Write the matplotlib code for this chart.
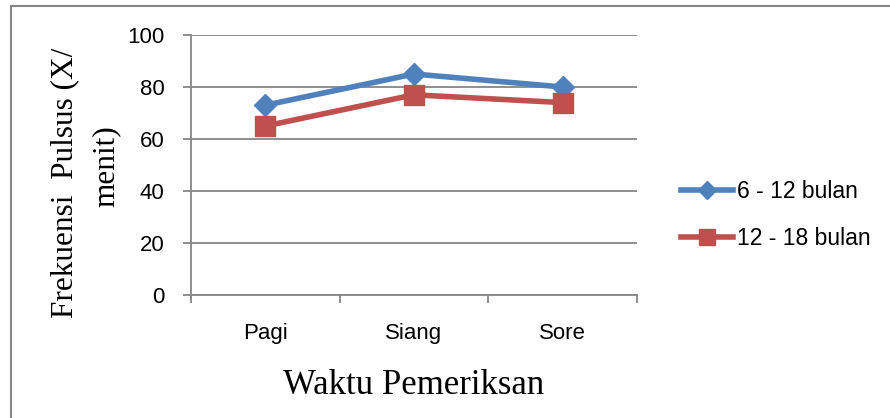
import numpy as np
import matplotlib.pyplot as plt
from matplotlib.patches import Rectangle
from matplotlib.lines import Line2D

# data
waktu = ["Pagi", "Siang", "Sore"]
umur_6_12 = [73, 85, 80]
umur_12_18 = [65, 77, 74]
y_ticks = [0, 20, 40, 60, 80, 100]

biru = "#4F81BD"
merah = "#C0504D"
abu = "#868686"
sans = "Liberation Sans"
serif = "Liberation Serif"

fig = plt.figure(figsize=(8.9, 4.18), dpi=100)
ax = fig.add_axes([191 / 890, 1 - 295 / 418, 446 / 890, 260 / 418])

x = np.arange(len(waktu))
ax.plot(x, umur_6_12, color=biru, lw=4, marker="D", ms=11, label="6 - 12 bulan")
ax.plot(x, umur_12_18, color=merah, lw=4, marker="s", ms=14, label="12 - 18 bulan")

ax.set_xlim(-0.5, len(waktu) - 0.5)
ax.set_ylim(0, 100)
ax.set_yticks(y_ticks)
ax.set_yticklabels([str(v) for v in y_ticks], fontsize=16, fontfamily=sans)
for v in y_ticks:
    ax.axhline(v, color=abu, lw=1.3, zorder=0)

# ticks between categories on x axis
ax.set_xticks(np.arange(-0.5, len(waktu)), minor=False)
ax.set_xticklabels([])
ax.set_xticks(x, minor=True)
ax.set_xticklabels(waktu, minor=True, fontsize=16, fontfamily=sans)
ax.tick_params(axis="x", which="major", length=6, width=1.3, color=abu, direction="out")
ax.tick_params(axis="x", which="minor", length=0, pad=20)
ax.tick_params(axis="y", length=6, width=1.3, color=abu, direction="out", pad=13)

for s in ["top", "right"]:
    ax.spines[s].set_visible(False)
ax.spines["bottom"].set_color(abu)
ax.spines["bottom"].set_linewidth(1.3)
ax.spines["left"].set_color(abu)
ax.spines["left"].set_linewidth(1.3)
ax.spines["left"].set_bounds(-3 / 2.6, 100)

ax.set_xlabel("Waktu Pemeriksan", fontsize=25, fontfamily=serif, labelpad=18)

# two-line y label
fig.text(65 / 890, 1 - 183 / 418, "Frekuensi  Pulsus (X/", rotation=90,
         fontsize=22.5, fontfamily=serif, ha="center", va="center")
fig.text(106 / 890, 1 - 166 / 418, "menit)", rotation=90,
         fontsize=22.5, fontfamily=serif, ha="center", va="center")

# legend
handles = [Line2D([], [], color=biru, lw=4, marker="D", ms=9),
           Line2D([], [], color=merah, lw=4, marker="s", ms=11)]
fig.legend(handles, ["6 - 12 bulan", "12 - 18 bulan"], loc="center left",
           bbox_to_anchor=(660 / 890, 1 - 215 / 418), frameon=False,
           prop={"family": sans, "size": 16.5}, handlelength=2.3,
           handletextpad=0.15, labelspacing=1.05)

# outer chart border
fig.patches.append(Rectangle((11 / 890, -0.01), 1.0, 1 - 6 / 418 + 0.01,
                             transform=fig.transFigure, fill=False,
                             edgecolor=abu, lw=1.5))

fig.savefig("out.png", dpi=100)
